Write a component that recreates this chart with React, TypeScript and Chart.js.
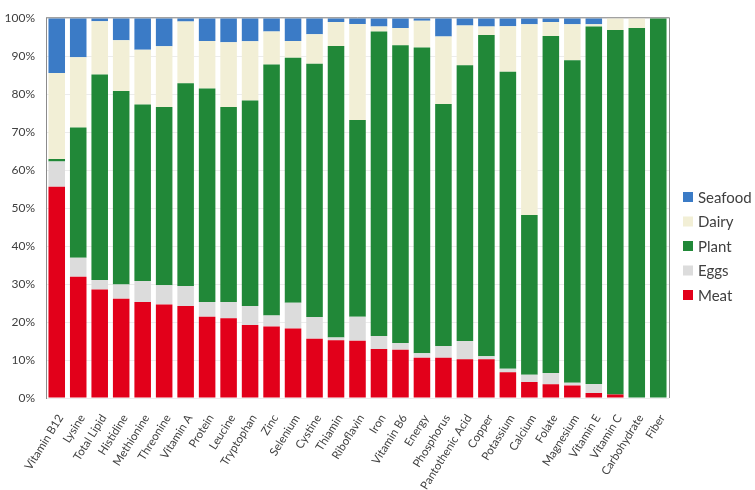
import React, { useEffect, useRef } from "react";
import { Chart, registerables } from "chart.js";

Chart.register(...registerables);

const categories = [
  "Vitamin B12", "Lysine", "Total Lipid", "Histidine", "Methionine", "Threonine",
  "Vitamin A", "Protein", "Leucine", "Tryptophan", "Zinc", "Selenium", "Cystine",
  "Thiamin", "Riboflavin", "Iron", "Vitamin B6", "Energy", "Phosphorus",
  "Pantothenic Acid", "Copper", "Potassium", "Calcium", "Folate", "Magnesium",
  "Vitamin E", "Vitamin C", "Carbohydrate", "Fiber",
];

const meat = [55.6, 31.9, 28.6, 26.1, 25.3, 24.6, 24.2, 21.4, 21.0, 19.2, 18.8, 18.3, 15.6, 15.2, 15.1, 12.9, 12.7, 10.6, 10.6, 10.2, 10.2, 6.8, 4.2, 3.6, 3.3, 1.3, 0.9, 0, 0];
const eggs = [6.7, 5.0, 2.5, 3.8, 5.5, 5.1, 5.3, 3.9, 4.3, 5.0, 2.9, 6.8, 5.7, 0.7, 6.3, 3.4, 1.8, 1.2, 3.1, 4.8, 0.8, 0.9, 1.9, 3.0, 0.7, 2.4, 0, 0, 0];
const plant = [0.6, 34.3, 54.1, 50.9, 46.5, 46.9, 53.4, 56.2, 51.3, 54.1, 66.1, 64.5, 66.7, 76.8, 51.8, 80.2, 78.4, 80.5, 63.7, 72.6, 84.6, 78.2, 42.1, 88.7, 84.9, 94.1, 96.0, 97.4, 100];
const dairy = [22.7, 18.5, 14.0, 13.4, 14.4, 16.0, 16.2, 12.5, 17.1, 15.6, 8.7, 4.4, 7.8, 6.3, 25.3, 1.3, 4.5, 7.0, 17.8, 10.5, 2.2, 12.0, 50.2, 3.7, 9.5, 0.6, 3.1, 2.6, 0];
const seafood = [14.4, 10.3, 0.8, 5.8, 8.3, 7.4, 0.9, 6.0, 6.3, 6.1, 3.5, 6.0, 4.2, 1.0, 1.5, 2.2, 2.6, 0.7, 4.8, 1.9, 2.2, 2.1, 1.6, 1.0, 1.6, 1.6, 0, 0, 0];

const yTicks = [0, 10, 20, 30, 40, 50, 60, 70, 80, 90, 100];

const FONT = "Lato, 'Open Sans', sans-serif";

const frameAndLegend = {
  id: "frameAndLegend",
  afterDatasetsDraw(chart: any) {
    const { ctx, chartArea } = chart;
    ctx.save();
    ctx.strokeStyle = "#8c8c8c";
    ctx.lineWidth = 1;
    ctx.beginPath();
    ctx.moveTo(chartArea.left, chartArea.top - 0.5);
    ctx.lineTo(chartArea.right + 0.5, chartArea.top - 0.5);
    ctx.lineTo(chartArea.right + 0.5, chartArea.bottom);
    ctx.stroke();

    // legend (reverse dataset order)
    const ds = chart.data.datasets.slice().reverse();
    const x0 = chartArea.right + 14;
    const y0 = 197;
    const step = 24.5;
    ctx.font = "15px " + FONT;
    ctx.textBaseline = "middle";
    ctx.textAlign = "left";
    ds.forEach((d: any, i: number) => {
      const y = y0 + i * step;
      ctx.fillStyle = d.backgroundColor;
      ctx.fillRect(x0, y - 5, 10, 10);
      ctx.fillStyle = "#404040";
      ctx.fillText(d.label, x0 + 15, y + 1);
    });
    ctx.restore();
  },
};

export default function App() {
  const ref = useRef<HTMLCanvasElement>(null);

  useEffect(() => {
    if (!ref.current) return;
    const chart = new Chart(ref.current, {
      type: "bar",
      data: {
        labels: categories,
        datasets: [
          { label: "Meat", data: meat, backgroundColor: "#E2001A" },
          { label: "Eggs", data: eggs, backgroundColor: "#DCDCDC" },
          { label: "Plant", data: plant, backgroundColor: "#218838" },
          { label: "Dairy", data: dairy, backgroundColor: "#F2EFD6" },
          { label: "Seafood", data: seafood, backgroundColor: "#3B7BC6" },
        ],
      },
      options: {
        animation: false,
        responsive: true,
        maintainAspectRatio: false,
        layout: { padding: { top: 11, right: 86, bottom: 0, left: 0 } },
        datasets: { bar: { barPercentage: 0.77, categoryPercentage: 1, borderWidth: 0 } },
        plugins: { legend: { display: false }, tooltip: { enabled: false } },
        scales: {
          x: {
            stacked: true,
            grid: { display: false, drawTicks: false },
            border: { display: false },
            ticks: {
              autoSkip: false,
              maxRotation: 58,
              minRotation: 58,
              padding: 14,
              labelOffset: 4,
              color: "#404040",
              font: { family: FONT, size: 11.5 },
            },
            afterFit(scale: any) {
              scale.height = 92;
            },
          },
          y: {
            stacked: true,
            min: 0,
            max: 100,
            afterBuildTicks(scale: any) {
              scale.ticks = yTicks.map((v) => ({ value: v }));
            },
            grid: { color: "#ececec", drawTicks: false },
            border: { display: true, color: "#8c8c8c", width: 1 },
            ticks: {
              padding: 11,
              color: "#404040",
              font: { family: FONT, size: 12 },
              callback: (v: any) => v + "%",
            },
            afterFit(scale: any) {
              scale.width = 46;
            },
          },
        },
      },
      plugins: [frameAndLegend],
    });
    return () => chart.destroy();
  }, []);

  return (
    <div style={{ position: "fixed", left: 0, top: 0, width: 755, height: 490, background: "#fff" }}>
      <canvas ref={ref} />
    </div>
  );
}
